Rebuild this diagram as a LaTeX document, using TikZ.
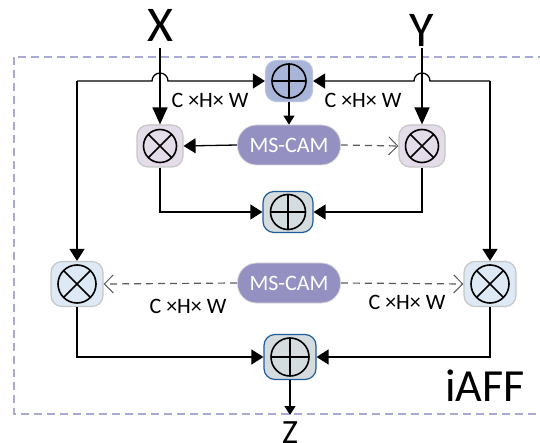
\documentclass[tikz,border=0pt]{standalone}
\usepackage{fontspec}
\setmainfont{Carlito}
\usetikzlibrary{arrows.meta}
\definecolor{boxline}{HTML}{A9A9D6}
\definecolor{pinkf}{HTML}{E5DCE9}
\definecolor{bluef}{HTML}{DDE9F4}
\definecolor{tpf}{HTML}{A8B4D8}
\definecolor{grayf}{HTML}{D5DCDF}
\definecolor{plusline}{HTML}{1F5C99}
\definecolor{camf}{HTML}{9590C2}
\definecolor{dashg}{HTML}{5A5A5A}
\begin{document}
\begin{tikzpicture}[x=1pt,y=-1pt,
  opnode/.style={rectangle, rounded corners=11pt, line width=1.2pt, inner sep=0pt},
  otimes/.style={path picture={
    \coordinate (c) at (path picture bounding box.center);
    \draw[draw=black, line width=1.6pt] (c) circle[radius=#1]
      ([shift={(45:#1)}]c) -- ([shift={(225:#1)}]c)
      ([shift={(135:#1)}]c) -- ([shift={(-45:#1)}]c);}},
  oplus/.style={path picture={
    \coordinate (c) at (path picture bounding box.center);
    \draw[draw=black, line width=1.6pt] (c) circle[radius=#1]
      ([shift={(0:#1)}]c) -- ([shift={(180:#1)}]c)
      ([shift={(90:#1)}]c) -- ([shift={(-90:#1)}]c);}},
  cam/.style={rectangle, rounded corners=19pt, fill=camf, draw=gray!30, line width=0.8pt,
    minimum width=103pt, minimum height=40pt, text=white, font=\fontsize{22}{22}\selectfont},
  lbl/.style={font=\fontsize{22}{22}\selectfont, inner sep=0pt},
  big/.style={font=\fontsize{50}{50}\selectfont, inner sep=0pt},
  ln/.style={line width=1.3pt},
  arr/.style={ln, -{Triangle[length=12pt,width=15pt]}},
  arrbig/.style={ln, -{Triangle[length=17pt,width=15pt]}},
  arrsmall/.style={ln, -{Triangle[length=9pt,width=11pt]}},
  dasharr/.style={line width=1.2pt, draw=dashg, dash pattern=on 7pt off 5pt,
    -{Straight Barb[length=9pt,width=18pt,line width=1pt]}}
]
\useasboundingbox (0,0) rectangle (540,443);
\begin{scope}
\clip (0,0) rectangle (540,443);
\draw[boxline, line width=1.2pt, dash pattern=on 8pt off 5pt] (14,57) rectangle (560,414);
\end{scope}

% texts
\node[big, anchor=south] (X) at (160,42) {X};
\node[big, anchor=south] (Y) at (422,47) {Y};
\node[font=\fontsize{34}{34}\selectfont, inner sep=0pt, anchor=north] (Z) at (290,421) {Z};
\node[font=\fontsize{46}{46}\selectfont, inner sep=0pt, anchor=south] (iaff) at (485,402) {iAFF};

% operator nodes
\node[opnode, draw=gray!45, fill=pinkf, minimum width=46pt, minimum height=42pt, otimes=16.5pt] (lm) at (160,146) {};
\node[opnode, draw=gray!45, fill=pinkf, minimum width=46pt, minimum height=42pt, otimes=16.5pt] (rm) at (422,146) {};
\node[opnode, draw=tpf!80, fill=tpf, minimum width=47pt, minimum height=41pt, oplus=17pt] (tp) at (289,81) {};
\node[opnode, draw=plusline, fill=grayf, minimum width=50pt, minimum height=41pt, oplus=17.5pt] (mp) at (288,212) {};
\node[opnode, draw=gray!45, fill=bluef, minimum width=52pt, minimum height=45pt, otimes=19pt] (bl) at (77,284) {};
\node[opnode, draw=gray!45, fill=bluef, minimum width=52pt, minimum height=45pt, otimes=19pt] (br) at (490,284) {};
\node[opnode, draw=plusline, fill=grayf, minimum width=52pt, minimum height=45pt, oplus=19pt] (bp) at (290,357) {};

\node[cam] (cam1) at (289,145) {MS-CAM};
\node[cam] (cam2) at (289,283) {MS-CAM};

% labels
\node[lbl] (l1) at (210,100) {C ×H× W};
\node[lbl] (l2) at (363,100) {C ×H× W};
\node[lbl] (l3) at (188,306) {C ×H× W};
\node[lbl] (l4) at (407,302) {C ×H× W};

% connectors
\draw[arrbig, shorten <=6pt] (X.south) -- (lm.north);
\draw[arrbig, shorten <=1pt] (Y.south) -- (rm.north);
\draw[arr] (bl |- tp) -- ([xshift=-8pt]lm |- tp) arc[start angle=180,end angle=0,radius=8pt] -- (tp.west);
\draw[arr] (bl |- tp) -- (bl.north);
\draw[arr] (br |- tp) -- ([xshift=8pt]rm |- tp) arc[start angle=0,end angle=180,radius=8pt] -- (tp.east);
\draw[arr] (br |- tp) -- (br.north);
\draw[arrsmall] (tp.south) -- (cam1.north);
\draw[arr] (cam1.west) -- (lm.east);
\draw[dasharr] (cam1.east) -- (rm.west);
\draw[arr] (lm.south) |- (mp.west);
\draw[arr] (rm.south) |- (mp.east);
\draw[dasharr] (cam2.west) -- (bl.east);
\draw[dasharr] (cam2.east) -- (br.west);
\draw[arr] (bl.south) |- (bp.west);
\draw[arr] (br.south) |- (bp.east);
\draw[arrsmall, shorten >=6pt] (bp.south) -- (Z.north);
\end{tikzpicture}
\end{document}
